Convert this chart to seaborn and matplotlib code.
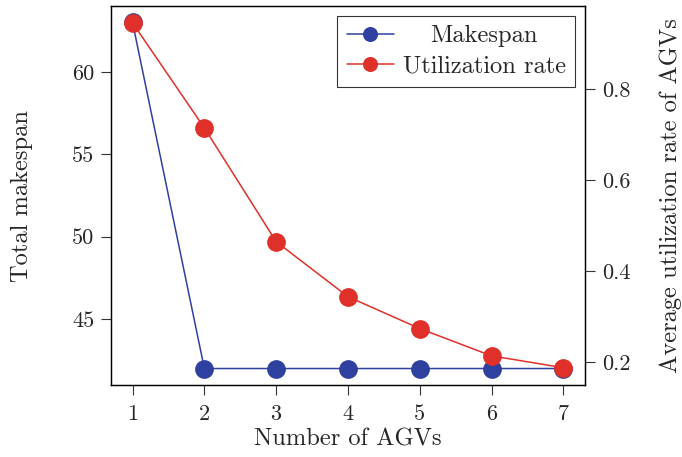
import matplotlib
matplotlib.use("Agg")
import matplotlib.pyplot as plt
import matplotlib.transforms as mtransforms
import seaborn as sns
import pandas as pd

agvs = [1, 2, 3, 4, 5, 6, 7]
makespan = [63, 42, 42, 42, 42, 42, 42]
utilization = [0.945, 0.714, 0.464, 0.343, 0.273, 0.213, 0.187]
x_ticks = [1, 2, 3, 4, 5, 6, 7]
left_ticks = [45, 50, 55, 60]
right_ticks = [0.2, 0.4, 0.6, 0.8]

sns.set_style("ticks")
plt.rcParams['font.family'] = ['cmr10', 'DejaVu Serif']
plt.rcParams['mathtext.fontset'] = 'cm'
plt.rcParams['axes.formatter.use_mathtext'] = True
plt.rcParams['axes.unicode_minus'] = False

blue = "#2e40a0"
red = "#e0302a"

df = pd.DataFrame({"agv": agvs, "makespan": makespan, "util": utilization})

fig = plt.figure(figsize=(6.82, 4.57), dpi=100)
ax = fig.add_axes([111/682, 1 - 385/457, (585-111)/682, (385-6)/457])
ax2 = ax.twinx()

sns.lineplot(data=df, x="agv", y="makespan", ax=ax, color=blue, marker="o",
             markersize=13.5, markeredgewidth=0, linewidth=1.1, label="Makespan", legend=False)
sns.lineplot(data=df, x="agv", y="util", ax=ax2, color=red, marker="o",
             markersize=13.5, markeredgewidth=0, linewidth=1.1, label="Utilization rate", legend=False)

ax.set_xlim(0.7, 7.3)
ax.set_ylim(41.0, 64.0)
ax2.set_ylim(0.149, 0.982)
ax.set_xticks(x_ticks)
ax.set_xticklabels([str(v) for v in x_ticks])
ax.set_yticks(left_ticks)
ax.set_yticklabels([str(v) for v in left_ticks])
ax2.set_yticks(right_ticks)
ax2.set_yticklabels([f"{v:.1f}" for v in right_ticks])

fs = 16
lfs = 17.6
ax.set_xlabel("Number of AGVs", fontsize=lfs, labelpad=3)
ax.set_ylabel("Total makespan", fontsize=lfs, labelpad=28)
ax2.set_ylabel("Average utilization rate of AGVs", fontsize=lfs, labelpad=21)
for a in (ax, ax2):
    a.tick_params(labelsize=fs, length=7, width=0.8, color="#333333", pad=5)
    for s in a.spines.values():
        s.set_linewidth(0.9)
        s.set_color("black")
ax.tick_params(axis="x", pad=7)

h1, l1 = ax.get_legend_handles_labels()
h2, l2 = ax2.get_legend_handles_labels()
leg = ax2.legend(h1 + h2, l1 + l2, loc="upper right", fontsize=lfs, frameon=True,
                 fancybox=False, edgecolor="black", borderaxespad=0.4, handlelength=1.95,
                 handletextpad=0.35, borderpad=0.38, labelspacing=0.35, markerscale=0.8)
leg.get_frame().set_linewidth(0.8)

# center the shorter legend entry text like the reference
fig.canvas.draw()
renderer = fig.canvas.get_renderer()
texts = leg.get_texts()
widths = [t.get_window_extent(renderer).width for t in texts]
wmax = max(widths)
for t, w in zip(texts, widths):
    dx = (wmax - w) / 2.0
    if dx > 0:
        t.set_transform(t.get_transform() + mtransforms.Affine2D().translate(dx, 0))

fig.savefig("out.png", dpi=100)
